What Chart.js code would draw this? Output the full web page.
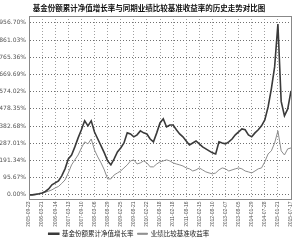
<!DOCTYPE html>
<html><head><meta charset="utf-8">
<script src="https://cdn.jsdelivr.net/npm/chart.js@4/dist/chart.umd.min.js"></script>
<style>html,body{margin:0;padding:0;background:#fff;}#wrap{width:300px;height:247px;}</style>
</head><body><div id="wrap"><canvas id="c" width="300" height="247"></canvas></div>
<script>
const titleText = '基金份额累计净值增长率与同期业绩比较基准收益率的历史走势对比图';
const seriesNames = ['基金份额累计净值增长率', '业绩比较基准收益率'];
const tickDates = ['2005-09-23','2006-03-21','2006-09-14','2007-03-13','2007-09-10','2008-03-06','2008-08-29','2009-02-25','2009-08-21','2010-02-22','2010-08-18','2011-02-18','2011-08-16','2012-02-15','2012-08-10','2013-02-07','2013-08-05','2014-01-29','2014-07-28','2015-01-21','2015-07-17'];
const yTicks = [0, 95.67, 191.34, 287.01, 382.68, 478.35, 574.02, 669.69, 765.36, 861.03, 956.70];
const stepsPerTick = 4;
const fundValues = [0,0,3,6,11,19,33,56,67,78,106,145,200,222,267,317,362,412,384,412,350,311,273,234,189,167,200,239,261,289,345,339,323,334,356,345,339,311,295,345,400,423,378,389,389,362,339,323,300,278,289,300,284,267,256,245,234,228,295,289,284,295,311,334,350,367,362,334,323,345,362,384,417,489,590,712,950,520,440,478,578];
const benchValues = [0,0,2,5,9,15,21,28,39,47,64,83,122,167,195,222,261,295,284,311,250,211,178,139,89,89,111,122,133,150,167,189,195,172,178,189,178,156,156,172,184,189,195,189,178,172,167,161,150,145,133,139,150,139,128,122,117,122,139,150,145,133,139,145,150,145,133,128,122,133,145,150,184,228,245,289,356,245,222,256,261];

const categories = fundValues.map((v, i) => (i % stepsPerTick === 0 ? tickDates[i / stepsPerTick] : ''));

const boxPlugin = {
  id: 'box',
  afterLayout(chart) {
    const lg = chart.legend;
    if (lg) {
      lg.left -= 20; lg.right -= 20;
      if (lg.adjustHitBoxes) lg.adjustHitBoxes();
    }
  },
  afterDraw(chart) {
    const ctx = chart.ctx, a = chart.chartArea;
    ctx.save();
    ctx.strokeStyle = '#888';
    ctx.lineWidth = 1;
    ctx.setLineDash([]);
    ctx.strokeRect(Math.round(a.left) + 0.5, Math.round(a.top) + 0.5, Math.round(a.right - a.left), Math.round(a.bottom - a.top));
    const lg = chart.legend;
    if (lg && lg.legendHitBoxes && lg.legendHitBoxes.length) {
      const hb = lg.legendHitBoxes;
      const x0 = hb[0].left - 4, x1 = hb[hb.length - 1].left + hb[hb.length - 1].width + 3;
      const y0 = hb[0].top - 4, y1 = hb[0].top + hb[0].height + 4;
      ctx.strokeStyle = '#555';
      ctx.strokeRect(Math.round(x0) + 0.5, Math.round(y0) + 0.5, Math.round(x1 - x0), Math.round(y1 - y0));
      ctx.fillStyle = '#555';
      ctx.fillRect(Math.round(x0) + 2, Math.round(y1) + 1, Math.round(x1 - x0), 1);
      ctx.fillRect(Math.round(x1) + 1, Math.round(y0) + 2, 1, Math.round(y1 - y0));
    }
    ctx.restore();
  }
};

new Chart(document.getElementById('c'), {
  type: 'line',
  data: {
    labels: categories,
    datasets: [
      { label: seriesNames[0], data: fundValues, borderColor: '#3a3a3a', backgroundColor: '#3a3a3a', borderWidth: 1.6, pointRadius: 0, tension: 0 },
      { label: seriesNames[1], data: benchValues, borderColor: '#8c8c8c', backgroundColor: '#8c8c8c', borderWidth: 1, pointRadius: 0, tension: 0 }
    ]
  },
  plugins: [boxPlugin],
  options: {
    responsive: false,
    animation: false,
    devicePixelRatio: 1,
    layout: { padding: { left: 0, right: 2, top: 0, bottom: 0 } },
    plugins: {
      title: { display: true, text: titleText, color: '#111', font: { family: 'Noto Sans CJK SC', size: 7.5, weight: 'bold' }, padding: { top: 4, bottom: 3 } },
      legend: {
        position: 'bottom',
        labels: { boxWidth: 10, boxHeight: 1, padding: 4, color: '#222', font: { family: 'Noto Sans CJK SC', size: 6.5 } }
      },
      tooltip: { enabled: false }
    },
    scales: {
      x: {
        type: 'category',
        offset: false,
        grid: { color: (c) => (c.index % stepsPerTick === 0 ? '#a0a0a0' : 'rgba(0,0,0,0)'), drawTicks: false },
        border: { display: true, color: 'rgba(0,0,0,0)', dash: [1, 2] },
        ticks: {
          autoSkip: false, maxRotation: 90, minRotation: 90, padding: 3,
          color: '#555', font: { family: 'Liberation Sans', size: 5 },
          callback: (v, i) => categories[i]
        },
        afterFit: (s) => { s.height = 28; }
      },
      y: {
        min: -20, max: 995,
        afterBuildTicks: (s) => { s.ticks = yTicks.map(v => ({ value: v })); },
        grid: { color: '#707070', drawTicks: false },
        border: { display: true, color: 'rgba(0,0,0,0)', dash: [1, 2] },
        ticks: { padding: 3, color: '#555', font: { family: 'DejaVu Sans', size: 6 }, callback: (v) => Number(v).toFixed(2) + '%' },
        afterFit: (s) => { s.width = 29; }
      }
    }
  }
});
</script></body></html>
